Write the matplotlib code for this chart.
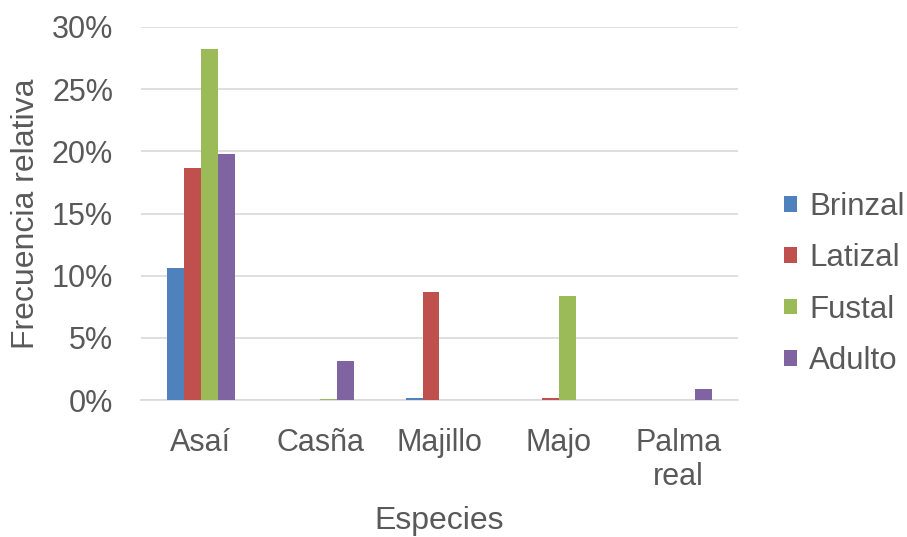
import numpy as np
import matplotlib.pyplot as plt
from matplotlib.ticker import PercentFormatter

plt.rcParams['font.family'] = ['Liberation Sans', 'DejaVu Sans']

# Relative frequency (%) per species and growth stage
especies = ['Asaí', 'Casña', 'Majillo', 'Majo', 'Palma\nreal']
brinzal = [10.6, 0.0, 0.2, 0.0, 0.0]
latizal = [18.65, 0.0, 8.7, 0.2, 0.0]
fustal = [28.26, 0.05, 0.0, 8.4, 0.0]
adulto = [19.8, 3.1, 0.0, 0.0, 0.85]

series = [('Brinzal', brinzal, '#4F81BD'),
          ('Latizal', latizal, '#C0504D'),
          ('Fustal', fustal, '#9BBB59'),
          ('Adulto', adulto, '#8064A2')]

grey = '#595959'
fig = plt.figure(figsize=(9.07, 5.37), dpi=100)
ax = fig.add_axes([141 / 907, 1 - 400 / 537, 597 / 907, 373 / 537])

x = np.arange(len(especies))
w = 0.142
for i, (name, vals, color) in enumerate(series):
    ax.bar(x + (i - 1.5) * w, vals, w, color=color, label=name, zorder=3)

ax.set_xlim(-0.5, len(especies) - 0.5)
ax.set_ylim(0, 30)
ax.set_yticks(np.arange(0, 31, 5))
ax.yaxis.set_major_formatter(PercentFormatter(decimals=0))
ax.set_xticks(x)
ax.set_xticklabels(especies, linespacing=1.2)
ax.grid(axis='y', color='#D9D9D9', linewidth=1.2, zorder=0)
for s in ['top', 'right', 'left']:
    ax.spines[s].set_visible(False)
ax.spines['bottom'].set_color('#D9D9D9')
ax.spines['bottom'].set_linewidth(1.2)
ax.tick_params(length=0, labelsize=22, colors=grey)
ax.tick_params(axis='y', pad=20)
ax.tick_params(axis='x', pad=20)

ax.set_ylabel('Frecuencia relativa', fontsize=23, color=grey, va='center')
ax.set_xlabel('Especies', fontsize=23, color=grey, va='center')
ax.yaxis.set_label_coords((26 - 141) / 597, 0.5)
ax.xaxis.set_label_coords(0.5, (400 - 521) / 373)

leg = fig.legend(loc='center left', bbox_to_anchor=(784 / 907, 1 - 284 / 537),
                 frameon=False, fontsize=22.5, handlelength=0.4, handleheight=0.4,
                 handletextpad=0.4, labelspacing=0.68, borderpad=0, borderaxespad=0)
for t in leg.get_texts():
    t.set_color(grey)

fig.savefig('out.png', dpi=100)
